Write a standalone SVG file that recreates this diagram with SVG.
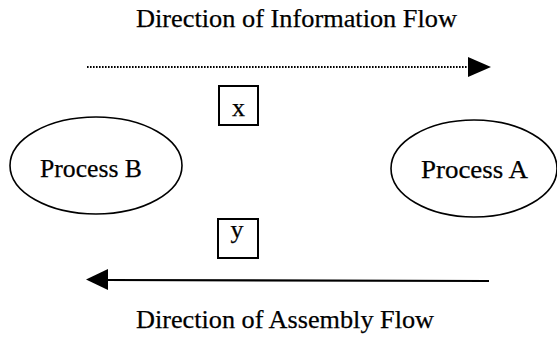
<svg xmlns="http://www.w3.org/2000/svg" width="557" height="339" viewBox="0 0 557 339">
<style>
text{font-family:"Liberation Serif","Times New Roman",serif;font-size:26px;fill:#000;stroke:#000;stroke-width:0.25}
.node{fill:none;stroke:#000;stroke-width:1.6}
.box{fill:#fff;stroke:#000;stroke-width:2}
.dot{stroke:#000;stroke-width:2;stroke-dasharray:1.6 1.4;fill:none}
.solid{stroke:#000;stroke-width:2.2;fill:none}
</style>
<rect width="557" height="339" fill="#fff"/>
<text x="136" y="27" textLength="321" lengthAdjust="spacingAndGlyphs">Direction of Information Flow</text>
<text x="136" y="328" textLength="298" lengthAdjust="spacingAndGlyphs">Direction of Assembly Flow</text>
<g id="connectors">
<line class="dot" x1="87" y1="67" x2="469" y2="67"/>
<polygon points="468,57 491,67 468,77" fill="#000"/>
<line class="solid" x1="106" y1="280" x2="489" y2="281"/>
<polygon points="108,269 86,279.5 108,290" fill="#000"/>
</g>
<g id="processB">
<ellipse class="node" cx="96" cy="165.5" rx="86" ry="48.5"/>
<text x="40" y="177" textLength="102" lengthAdjust="spacingAndGlyphs">Process B</text>
</g>
<g id="processA">
<ellipse class="node" cx="474" cy="168.5" rx="83" ry="48.5"/>
<text x="421" y="178" textLength="107" lengthAdjust="spacingAndGlyphs">Process A</text>
</g>
<g id="x">
<rect class="box" x="219" y="86" width="39" height="39"/>
<text x="238.5" y="116" text-anchor="middle">x</text>
</g>
<g id="y">
<rect class="box" x="218" y="219" width="40" height="39"/>
<text x="237" y="238" text-anchor="middle">y</text>
</g>
</svg>
